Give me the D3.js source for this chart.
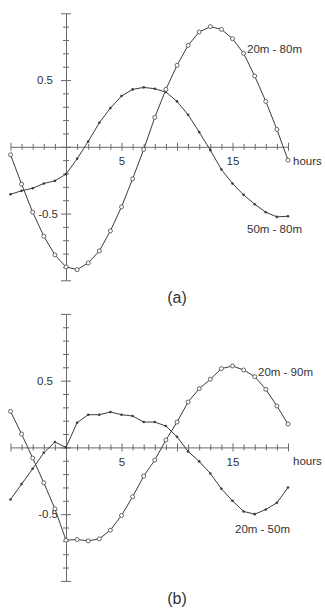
<!DOCTYPE html>
<html>
<head>
<meta charset="utf-8">
<script src="https://cdn.jsdelivr.net/npm/d3@7"></script>
<style>
  body { margin: 0; background: #fff; }
  text { font-family: "Liberation Sans", Arial, sans-serif; fill: #333; }
</style>
</head>
<body>
<script>
// Define data
const hours = [-5, -4, -3, -2, -1, 0, 1, 2, 3, 4, 5, 6, 7, 8, 9, 10, 11, 12, 13, 14, 15, 16, 17, 18, 19, 20];

// panel (a)
const a2080 = [-0.06, -0.28, -0.49, -0.67, -0.81, -0.90, -0.92, -0.87, -0.78, -0.63, -0.45, -0.24, -0.02,
  0.22, 0.43, 0.61, 0.76, 0.86, 0.90, 0.88, 0.81, 0.70, 0.53, 0.34, 0.13, -0.10];
const a5080 = [-0.355, -0.33, -0.31, -0.275, -0.255, -0.205, -0.09, 0.04, 0.18, 0.29, 0.38, 0.43, 0.445,
  0.435, 0.41, 0.34, 0.24, 0.11, -0.025, -0.17, -0.275, -0.36, -0.43, -0.49, -0.525, -0.52];

// panel (b)
const b2090 = [0.27, 0.10, -0.08, -0.265, -0.46, -0.695, -0.69, -0.70, -0.685, -0.62, -0.51, -0.37, -0.215,
  -0.095, 0.055, 0.19, 0.34, 0.44, 0.51, 0.59, 0.61, 0.58, 0.53, 0.435, 0.31, 0.175];
const b2050 = [-0.39, -0.275, -0.16, -0.04, 0.04, 0, 0.185, 0.245, 0.245, 0.265, 0.245, 0.235, 0.19,
  0.19, 0.16, 0.08, -0.03, -0.105, -0.195, -0.31, -0.40, -0.48, -0.50, -0.465, -0.415, -0.30];

const xLabels = [5, 15];
const yLabels = [-0.5, 0.5];
const yTicks = [-1, -0.9, -0.8, -0.7, -0.6, -0.5, -0.4, -0.3, -0.2, -0.1, 0, 0.1, 0.2, 0.3, 0.4, 0.5, 0.6, 0.7, 0.8, 0.9, 1];

// Create SVG
let width = 325,
  height = 610;

let svg = d3
  .select('body')
  .append('svg')
    .attr('width', width)
    .attr('height', height);

let xScale = d3.scaleLinear()
  .domain([-5, 20])
  .range([10.5, 288]);

const lineColor = '#3c3c3c';
const axisColor = '#6a6a6a';

function isMajor(v, step) {
  return Math.abs(Math.round(v / step) * step - v) < 1e-6;
}

function drawPanel(top, circles, dots, circleLabel, dotLabel, tag) {
  let yScale = d3.scaleLinear()
    .domain([-1, 1])
    .range([top + 267, top]);

  let g = svg.append('g');

  // x axis, ticks crossing the line
  let xAxis = g.append('g')
    .attr('transform', `translate(0,${yScale(0)})`)
    .call(d3.axisBottom(xScale)
      .tickValues(hours)
      .tickSize(3)
      .tickSizeOuter(0)
      .tickPadding(7)
      .tickFormat(d => xLabels.includes(d) ? d : ''));
  xAxis.selectAll('.tick line')
    .attr('y1', d => isMajor(d, 5) ? -4 : -3)
    .attr('y2', d => isMajor(d, 5) ? 4 : 3);

  // y axis
  let yAxis = g.append('g')
    .attr('transform', `translate(${xScale(0)},0)`)
    .call(d3.axisLeft(yScale)
      .tickValues(yTicks)
      .tickSize(3)
      .tickSizeOuter(0)
      .tickPadding(9)
      .tickFormat(d => yLabels.includes(d) ? d : ''));
  yAxis.selectAll('.tick line')
    .attr('x1', d => isMajor(d, 0.5) ? 5 : 3)
    .attr('x2', d => isMajor(d, 0.5) ? -5 : -3);
  yAxis.selectAll('.tick text')
    .attr('x', d => d < 0 ? -8 : -13);

  g.selectAll('.domain, .tick line').attr('stroke', axisColor);
  g.selectAll('.tick text')
    .style('font-size', '11.5px')
    .attr('fill', '#333');

  let line = d3.line()
    .x((d, i) => xScale(hours[i]))
    .y(d => yScale(d));

  g.append('path')
    .datum(dots)
    .attr('d', line)
    .attr('fill', 'none')
    .attr('stroke', lineColor)
    .attr('stroke-width', 1);

  g.append('path')
    .datum(circles)
    .attr('d', line)
    .attr('fill', 'none')
    .attr('stroke', lineColor)
    .attr('stroke-width', 1);

  g.selectAll('.dot')
    .data(dots)
    .enter()
    .append('circle')
      .attr('cx', (d, i) => xScale(hours[i]))
      .attr('cy', d => yScale(d))
      .attr('r', 1.3)
      .attr('fill', lineColor);

  g.selectAll('.ring')
    .data(circles)
    .enter()
    .append('circle')
      .attr('cx', (d, i) => xScale(hours[i]))
      .attr('cy', d => yScale(d))
      .attr('r', 2)
      .attr('fill', '#fff')
      .attr('stroke', '#555')
      .attr('stroke-width', 0.9);

  // Add labels
  g.append('text')
    .attr('x', 293)
    .attr('y', yScale(0) + 18)
    .style('font-size', '11.5px')
    .text('hours');

  g.append('text')
    .attr('x', circleLabel.x)
    .attr('y', circleLabel.y)
    .style('font-size', '11.5px')
    .text(circleLabel.text);

  g.append('text')
    .attr('x', dotLabel.x)
    .attr('y', dotLabel.y)
    .style('font-size', '11.5px')
    .text(dotLabel.text);

  g.append('text')
    .attr('x', 177)
    .attr('y', top + 290)
    .attr('text-anchor', 'middle')
    .style('font-size', '16px')
    .text(tag);
}

drawPanel(13.3, a2080, a5080,
  { x: 247, y: 53, text: '20m - 80m' },
  { x: 247, y: 233, text: '50m - 80m' }, '(a)');

drawPanel(313.9, b2090, b2050,
  { x: 258, y: 376, text: '20m - 90m' },
  { x: 235, y: 533, text: '20m - 50m' }, '(b)');
</script>
</body>
</html>
